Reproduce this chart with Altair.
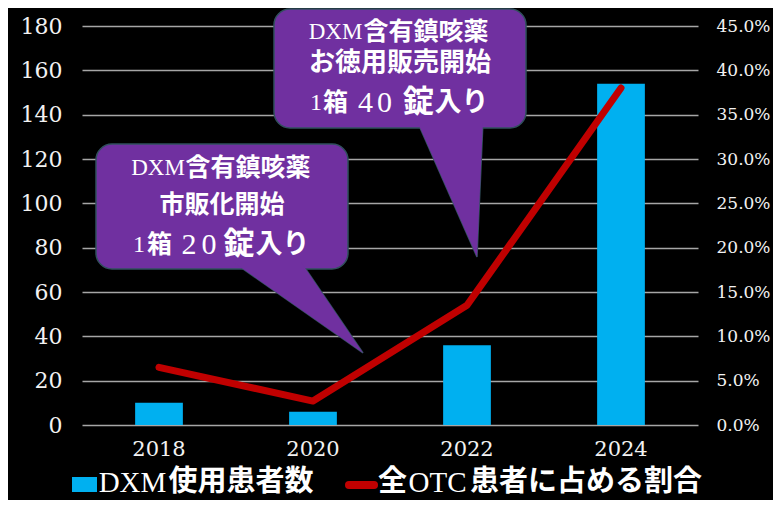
import altair as alt
import pandas as pd

# ---- chart data ----
years = ["2018", "2020", "2022", "2024"]
patients = [10, 6, 36, 154]          # DXM使用患者数 (left axis)
ratio = [0.065, 0.027, 0.135, 0.38]  # 全OTC患者に占める割合 (right axis)

left_ticks = list(range(0, 181, 20))
right_ticks = [round(i * 0.05, 2) for i in range(10)]

# ---- annotation layout (plot-area pixel coordinates) ----
bubble_x = [14, 192]
bubble_x2 = [266, 444]
bubble_y = [118, -17]
bubble_y2 = [243, 102]

tail_id = [1, 1, 2, 2]
tail_y = [236, 327, 95, 231]
tail_x = [151, 281, 335, 395]
tail_x2 = [219, 281, 401, 395]

serif_text = ["DXM", "1", "2", "0", "DXM", "1", "4", "0", "DXM", "OTC"]
serif_x = [76, 57, 107, 127, 253.5, 234, 283.5, 302.5, 50.5, 355.5]
serif_y = [142, 219, 219, 219, 6, 77, 77, 77, 457, 457]
serif_size = [23, 24, 30, 30, 23, 24, 30, 30, 29, 29]

cjk_text = ["含有鎮咳薬", "市販化開始", "箱", "錠", "入り",
            "含有鎮咳薬", "お徳用販売開始", "箱", "錠", "入り",
            "使用患者数", "全", "患者に占める割合"]
cjk_x = [166, 140, 77.5, 157, 200.5,
         344, 318, 253.5, 336.5, 379.5,
         159, 310.5, 504]
cjk_y = [142, 179, 219, 219, 219,
         6, 37, 77, 77, 77,
         456, 456, 456]
cjk_size = [25, 25, 25, 31, 27,
            25, 26, 25, 31, 27,
            29, 29, 29]

BAR = "#00B0F0"
LINE = "#C00000"
PURPLE = "#7030A0"
EDGE = "#31505E"
WHITE = "#F2F2F2"

df = pd.DataFrame({"year": years, "patients": patients, "ratio": ratio})
xscale = alt.Scale(domain=years, paddingInner=0.69, paddingOuter=0.345)

bars = alt.Chart(df).mark_bar(color=BAR).encode(
    x=alt.X("year:N", scale=xscale, sort=None,
            axis=alt.Axis(title=None, labelAngle=0, labelFont="DejaVu Serif",
                          labelFontSize=21, labelColor=WHITE, labelPadding=13,
                          domain=False, ticks=False, grid=False)),
    y=alt.Y("patients:Q", scale=alt.Scale(domain=[0, 180]),
            axis=alt.Axis(title=None, values=left_ticks, orient="left", grid=True,
                          gridColor="#A6A6A6", gridWidth=1.5, domain=False, ticks=False,
                          labelFont="DejaVu Serif", labelFontSize=22, labelColor=WHITE,
                          labelPadding=20)),
)

line = alt.Chart(df).mark_line(color=LINE, strokeWidth=7, strokeCap="round",
                               strokeJoin="round").encode(
    x=alt.X("year:N", scale=xscale, sort=None, axis=None),
    y=alt.Y("ratio:Q", scale=alt.Scale(domain=[0, 0.45]),
            axis=alt.Axis(title=None, orient="right", values=right_ticks, format=".1%",
                          grid=False, domain=False, ticks=False, labelFont="DejaVu Serif",
                          labelFontSize=17, labelColor=WHITE, labelPadding=18)),
)

tails_df = pd.DataFrame({"id": tail_id, "ty": tail_y, "tx": tail_x, "tx2": tail_x2})
rects_df = pd.DataFrame({"x": bubble_x, "x2": bubble_x2, "y": bubble_y, "y2": bubble_y2})

tail_enc = dict(
    y=alt.Y("ty:Q", scale=None, axis=None),
    x=alt.X("tx:Q", scale=None, axis=None),
    x2="tx2:Q",
    detail="id:N",
)
tail_stroke = alt.Chart(tails_df).mark_area(orient="horizontal", color=PURPLE,
                                            stroke=EDGE, strokeWidth=1.5).encode(**tail_enc)
tail_fill = alt.Chart(tails_df).mark_area(orient="horizontal", color=PURPLE,
                                          strokeWidth=0).encode(**tail_enc)
rects = alt.Chart(rects_df).mark_rect(color=PURPLE, stroke=EDGE, strokeWidth=1.5,
                                      cornerRadius=16).encode(
    x=alt.X("x:Q", scale=None, axis=None), x2="x2:Q",
    y=alt.Y("y:Q", scale=None, axis=None), y2="y2:Q",
)

serif_df = pd.DataFrame({"t": serif_text, "x": serif_x, "y": serif_y, "s": serif_size})
cjk_df = pd.DataFrame({"t": cjk_text, "x": cjk_x, "y": cjk_y, "s": cjk_size})

serif_txt = alt.Chart(serif_df).mark_text(font="Liberation Serif", color="white",
                                          align="center", baseline="middle").encode(
    x=alt.X("x:Q", scale=None, axis=None), y=alt.Y("y:Q", scale=None, axis=None),
    text="t:N", size=alt.Size("s:Q", scale=None, legend=None),
)
cjk_txt = alt.Chart(cjk_df).mark_text(font="Noto Sans CJK JP", fontWeight="bold",
                                      color="white", align="center",
                                      baseline="middle").encode(
    x=alt.X("x:Q", scale=None, axis=None), y=alt.Y("y:Q", scale=None, axis=None),
    text="t:N", size=alt.Size("s:Q", scale=None, legend=None),
)

legend_sq = alt.Chart(pd.DataFrame({"x": [-10], "x2": [15], "y": [451], "y2": [466]})).mark_rect(
    color=BAR).encode(
    x=alt.X("x:Q", scale=None, axis=None), x2="x2:Q",
    y=alt.Y("y:Q", scale=None, axis=None), y2="y2:Q",
)
legend_line = alt.Chart(pd.DataFrame({"a": [0]})).mark_rule(
    color=LINE, strokeWidth=8, strokeCap="round").encode(
    x=alt.value(267), x2=alt.value(292), y=alt.value(459))

chart = alt.layer(
    bars, line, tail_stroke, rects, tail_fill, serif_txt, cjk_txt, legend_sq, legend_line
).resolve_scale(x="independent", y="independent").properties(
    width=616, height=399,
    padding={"left": 74, "top": 18, "right": 75, "bottom": 75},
    autosize=alt.AutoSizeParams(type="none"),
    background="black",
).configure_view(stroke=None)

chart.save("out.html", embed_options={"renderer": "svg", "actions": False})
